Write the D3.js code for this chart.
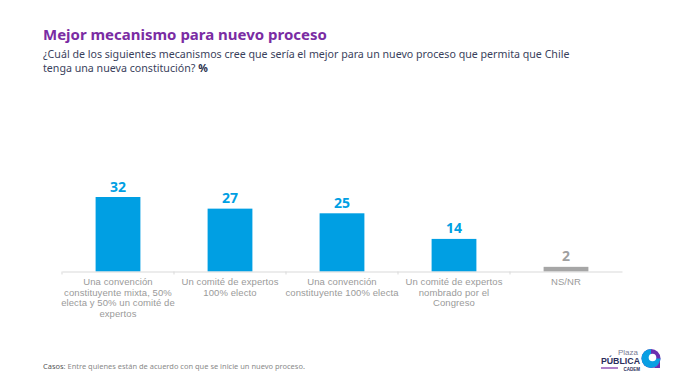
<!DOCTYPE html>
<html><head><meta charset="utf-8">
<script src="https://cdn.jsdelivr.net/npm/d3@7"></script>
<style>
html,body{margin:0;padding:0;background:#fff;}
svg{display:block;font-family:"Noto Sans",sans-serif;}
</style></head>
<body>
<svg id="c" width="680" height="383"></svg>
<script>
const categories = [
  ["Una convención","constituyente mixta, 50%","electa y 50% un comité de","expertos"],
  ["Un comité de expertos","100% electo"],
  ["Una convención","constituyente 100% electa"],
  ["Un comité de expertos","nombrado por el","Congreso"],
  ["NS/NR"]
];
const values = [32, 27, 25, 14, 2];
const isNsnr = [false, false, false, false, true];

const svg = d3.select("#c");

function fitText(sel, target) {
  const n = sel.node();
  const len = n.getComputedTextLength();
  const fs = parseFloat(sel.attr("font-size"));
  sel.attr("font-size", (fs * target / len).toFixed(2));
}

// Title
const title = svg.append("text").attr("x", 43).attr("y", 40)
  .attr("font-size", 17).attr("font-weight", 700).attr("fill", "#7a2ca3")
  .text("Mejor mecanismo para nuevo proceso");
fitText(title, 284);

const sub1 = svg.append("text").attr("x", 43).attr("y", 58)
  .attr("font-size", 11.5).attr("fill", "#3a3f5c")
  .text("¿Cuál de los siguientes mecanismos cree que sería el mejor para un nuevo proceso que permita que Chile");
fitText(sub1, 527);
const subFs = sub1.attr("font-size");
const sub2 = svg.append("text").attr("x", 43).attr("y", 71.5)
  .attr("font-size", subFs).attr("fill", "#3a3f5c");
sub2.append("tspan").text("tenga una nueva constitución? ");
sub2.append("tspan").attr("font-weight", 700).attr("fill", "#2a2f4c").text("%");

// Chart
const x = d3.scaleBand().domain(d3.range(values.length)).range([62, 622]).paddingInner(0).paddingOuter(0);
const y = d3.scaleLinear().domain([0, 32]).range([271.5, 197]);
const bw = x.bandwidth() * 0.4;

const g = svg.append("g");
g.selectAll("rect.bar").data(values).join("rect")
  .attr("class", "bar")
  .attr("x", (d, i) => x(i) + (x.bandwidth() - bw) / 2)
  .attr("width", bw)
  .attr("y", d => y(d))
  .attr("height", d => y(0) - y(d))
  .attr("fill", (d, i) => isNsnr[i] ? "#a6a6a6" : "#009fe3");

g.selectAll("text.val").data(values).join("text")
  .attr("class", "val")
  .attr("x", (d, i) => x(i) + x.bandwidth() / 2)
  .attr("y", d => y(d) - 5.5)
  .attr("text-anchor", "middle")
  .attr("font-size", 14).attr("font-weight", 700)
  .attr("fill", (d, i) => isNsnr[i] ? "#a0a0a0" : "#009fe3")
  .text(d => d);

// axis
const axis = d3.axisBottom(x).tickSize(0).tickFormat("");
const ax = svg.append("g").attr("transform", `translate(0,${y(0)})`).call(axis);
ax.select(".domain").attr("stroke", "#d9d9d9").attr("stroke-width", 1);
ax.selectAll(".tick").remove();
const bounds = d3.range(values.length).map(i => x(i));
ax.selectAll("line.sep").data(bounds).join("line")
  .attr("class", "sep").attr("x1", d => d).attr("x2", d => d)
  .attr("y1", 0).attr("y2", 3).attr("stroke", "#d9d9d9");

// category labels
const lab = svg.append("g").attr("font-family", '"Liberation Sans", Arial, sans-serif');
// measure to set letter-spacing for width matching
const probe = lab.append("text").attr("font-size", 9.5).text("Un comité de expertos");
const plen = probe.node().getComputedTextLength();
probe.remove();
const ls = Math.max(0, (97 - plen) / 21);
categories.forEach((lines, i) => {
  lines.forEach((ln, j) => {
    lab.append("text")
      .attr("text-anchor", "middle")
      .attr("font-size", 9.5).attr("fill", "#9a9a9a")
      .attr("letter-spacing", ls.toFixed(2))
      .attr("x", x(i) + x.bandwidth() / 2)
      .attr("y", 285 + j * 10.7).text(ln);
  });
});

// footnote
const fn = svg.append("text").attr("x", 43).attr("y", 368.5)
  .attr("font-size", 7.5).attr("fill", "#8a8a8a");
fn.append("tspan").attr("fill", "#555").text("Casos");
fn.append("tspan").text(": Entre quienes están de acuerdo con que se inicie un nuevo proceso.");
fitText(fn, 262);

// logo
const lg = svg.append("g").attr("font-family", '"Liberation Sans", Arial, sans-serif');
lg.append("text").attr("x", 638).attr("y", 354.5).attr("text-anchor", "end")
  .attr("font-size", 8).attr("fill", "#7a7c95").text("Plaza");
lg.append("text").attr("x", 640).attr("y", 364.2).attr("text-anchor", "end")
  .attr("font-size", 8.8).attr("font-weight", 700).attr("fill", "#2b2e5c").text("PÚBLICA");
lg.append("line").attr("x1", 601).attr("x2", 618).attr("y1", 368).attr("y2", 368)
  .attr("stroke", "#7a2ca3").attr("stroke-width", 1.2);
lg.append("text").attr("x", 640).attr("y", 370.6).attr("text-anchor", "end")
  .attr("font-size", 4.5).attr("font-weight", 700).attr("fill", "#2b2e5c").text("CADEM");
// circle mark
lg.append("circle").attr("cx", 651).attr("cy", 358.5).attr("r", 9.5).attr("fill", "#6a2fb0");
lg.append("path").attr("d", "M651,349 A9.5,9.5 0 1,0 660.5,358.5 L651,358.5 Z").attr("fill", "#0a9fe3");
lg.append("path").attr("d", "M651,368 L660,368 L660,360 A9,9 0 0,1 651,368 Z").attr("fill", "#6a2fb0");
lg.append("circle").attr("cx", 652.5).attr("cy", 357.5).attr("r", 3.8).attr("fill", "#fff");
</script>
</body></html>
